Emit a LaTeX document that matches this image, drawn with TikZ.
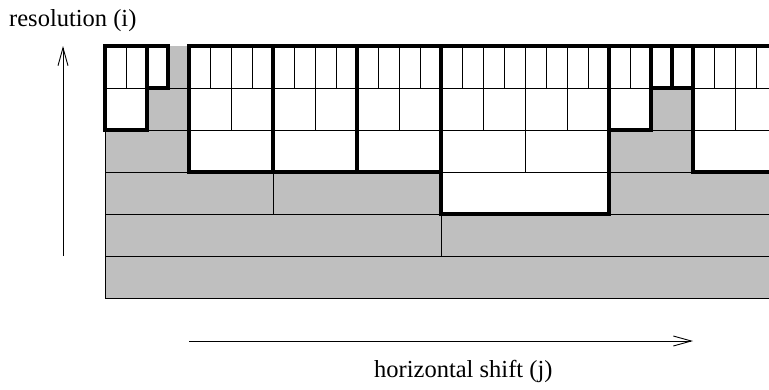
\documentclass[tikz,border=0pt]{standalone}
\usepackage{fontspec}
\setmainfont{Liberation Serif}
\usetikzlibrary{arrows.meta}
\definecolor{cellgray}{RGB}{191,191,191}
\tikzset{
  thinline/.style={draw=black,line width=0.8pt},
  selbox/.style={draw=black,line width=3.8pt,line join=miter},
  axisarrow/.style={draw=black,line width=0.9pt,-{Straight Barb[length=18pt,width=10pt,line width=0.9pt]}},
  lbl/.style={font=\fontsize{24.5}{28}\selectfont,inner sep=0pt,anchor=base west}
}
\begin{document}
\begin{tikzpicture}[x=1pt,y=-1pt]
\useasboundingbox (0,0) rectangle (769,389);
\begin{scope}
\clip (0,0) rectangle (769,389);
% gray background of the grid
\fill[fill=cellgray] (105,46) rectangle (777,298);
% white selected boxes
\foreach \xa/\xb/\yb in {105/147/130,147/168/88,189/273/172,273/357/172,357/441/172,441/609/214,609/651/130,651/672/88,672/693/88,693/777/172}
  \fill[white] (\xa,46) rectangle (\xb,\yb);
% horizontal grid lines
\foreach \y in {88,130,172,214,256,298}
  \draw[thinline] (105,\y) -- (777,\y);
% vertical grid lines per row
\foreach \r/\w in {0/21,1/42,2/84,3/168,4/336,5/672}{
  \pgfmathsetmacro{\ytop}{46+42*\r}
  \pgfmathsetmacro{\ybot}{88+42*\r}
  \pgfmathtruncatemacro{\n}{672/\w}
  \foreach \k in {0,...,\n}{
    \pgfmathsetmacro{\xx}{105+\k*\w}
    \draw[thinline] (\xx,\ytop) -- (\xx,\ybot);
  }
}
% thick outlines of selected boxes
\foreach \xa/\xb/\yb in {105/147/130,147/168/88,189/273/172,273/357/172,357/441/172,441/609/214,609/651/130,651/672/88,672/693/88,693/777/172}
  \draw[selbox] (\xa,46) rectangle (\xb,\yb);
\end{scope}
% axes
\coordinate (vbot) at (63,256);
\coordinate (vtop) at (63,46);
\coordinate (hleft) at (189,341);
\coordinate (hright) at (693,341);
\draw[axisarrow] (vbot) -- (vtop);
\draw[axisarrow] (hleft) -- (hright);
% labels
\node[lbl] (reslabel) at (9,26) {resolution (i)};
\node[lbl] (shiftlabel) at (374,377) {horizontal shift (j)};
\end{tikzpicture}
\end{document}
